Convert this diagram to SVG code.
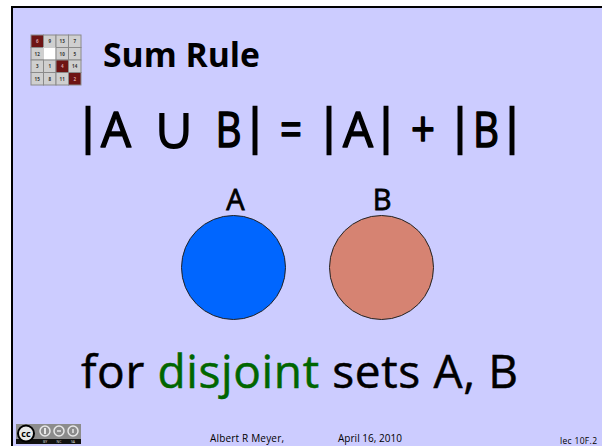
<svg xmlns="http://www.w3.org/2000/svg" width="602" height="446" viewBox="0 0 602 446">
<style>
text{font-family:"Open Sans","Noto Sans","DejaVu Sans",sans-serif;fill:#000}
.big{font-size:50px;stroke:#000;stroke-width:1.6px;stroke-linejoin:round}
.bar{font-family:"Liberation Sans",Arial,sans-serif;font-size:52px;stroke:#000;stroke-width:.6px}
.lab{font-size:29px;stroke:#000;stroke-width:.8px}
.foot{font-size:10px}
.n{font-size:4.5px;text-anchor:middle;fill:#333;font-weight:bold}
.cell{fill:#cfcfcf;stroke:#8a8a8a;stroke-width:1}
.dark{fill:#6e1414;stroke:#8a8a8a;stroke-width:1}
.cc{fill:none;stroke:#e8e8e8;stroke-width:1.5}
</style>
<rect width="602" height="446" fill="#000"/>
<rect x="0" y="0" width="602" height="6" fill="#fff"/>
<rect x="0" y="0" width="11" height="446" fill="#fff"/>
<rect x="13" y="8" width="589" height="438" fill="#ccccff"/>
<g id="puzzle-icon">
<rect class="dark" x="31" y="35" width="12.5" height="12.5"/><rect class="cell" x="43.5" y="35" width="12.5" height="12.5"/><rect class="cell" x="56" y="35" width="12.5" height="12.5"/><rect class="cell" x="68.5" y="35" width="12.5" height="12.5"/>
<rect class="cell" x="31" y="47.5" width="12.5" height="12.5"/><rect x="43.5" y="47.5" width="12.5" height="12.5" fill="#fff" stroke="#cfcfcf"/><rect class="cell" x="56" y="47.5" width="12.5" height="12.5"/><rect class="cell" x="68.5" y="47.5" width="12.5" height="12.5"/>
<rect class="cell" x="31" y="60" width="12.5" height="12.5"/><rect class="cell" x="43.5" y="60" width="12.5" height="12.5"/><rect class="dark" x="56" y="60" width="12.5" height="12.5"/><rect class="cell" x="68.5" y="60" width="12.5" height="12.5"/>
<rect class="cell" x="31" y="72.5" width="12.5" height="12.5"/><rect class="cell" x="43.5" y="72.5" width="12.5" height="12.5"/><rect class="cell" x="56" y="72.5" width="12.5" height="12.5"/><rect class="dark" x="68.5" y="72.5" width="12.5" height="12.5"/>
<text class="n" x="37.2" y="43" style="fill:#d9a0a0">6</text><text class="n" x="49.7" y="43">9</text><text class="n" x="62.2" y="43">13</text><text class="n" x="74.7" y="43">7</text>
<text class="n" x="37.2" y="55.5">12</text><text class="n" x="62.2" y="55.5">10</text><text class="n" x="74.7" y="55.5">5</text>
<text class="n" x="37.2" y="68">3</text><text class="n" x="49.7" y="68">1</text><text class="n" x="62.2" y="68" style="fill:#d9a0a0">4</text><text class="n" x="74.7" y="68">14</text>
<text class="n" x="37.2" y="80.5">15</text><text class="n" x="49.7" y="80.5">8</text><text class="n" x="62.2" y="80.5">11</text><text class="n" x="74.7" y="80.5" style="fill:#d9a0a0">2</text>
</g>
<g id="title"><text x="103" y="67" font-size="34" font-weight="bold" textLength="157" lengthAdjust="spacingAndGlyphs">Sum Rule</text></g>
<g id="formula">
<text class="bar" y="144" x="81.300">|</text>
<text class="big" y="147" x="101" textLength="30" lengthAdjust="spacingAndGlyphs">A</text>
<text class="big" y="147" x="215.500" textLength="26" lengthAdjust="spacingAndGlyphs">B</text>
<text class="bar" y="144" x="248.200">|</text>
<text class="big" y="147" x="280" textLength="22" lengthAdjust="spacingAndGlyphs">=</text>
<text class="bar" y="144" x="322.300">|</text>
<text class="big" y="147" x="343" textLength="30" lengthAdjust="spacingAndGlyphs">A</text>
<text class="bar" y="144" x="379.300">|</text>
<text class="big" y="147" x="411" textLength="24" lengthAdjust="spacingAndGlyphs">+</text>
<text class="bar" y="144" x="453.300">|</text>
<text class="big" y="147" x="473" textLength="26" lengthAdjust="spacingAndGlyphs">B</text>
<text class="bar" y="144" x="505.300">|</text>
<text y="149" x="174" font-size="62" text-anchor="middle" style="font-family:'DejaVu Sans',sans-serif">∪</text>
</g>
<g id="set-a">
<circle cx="233.500" cy="267.500" r="52" fill="#0066ff" stroke="#222" stroke-width="1"/>
<text class="lab" x="235.500" y="210" text-anchor="middle">A</text>
</g>
<g id="set-b">
<circle cx="381.500" cy="267.500" r="52" fill="#d68372" stroke="#222" stroke-width="1"/>
<text class="lab" x="382" y="210" text-anchor="middle">B</text>
</g>
<g id="caption"><text x="81" y="388" font-size="46" textLength="437" stroke="#000" stroke-width=".5">for <tspan stroke="#006600" style="fill:#006600">disjoint</tspan> sets A, B</text></g>
<g id="cc-badge">
<rect x="16" y="424" width="65" height="20" fill="#8c8c8c"/>
<rect x="16" y="439" width="65" height="5" fill="#111"/>
<circle cx="26" cy="433.500" r="8" fill="#e8e8e8" stroke="#000" stroke-width="2"/>
<text x="26" y="436.500" font-size="9" font-weight="bold" text-anchor="middle">cc</text>
<circle class="cc" cx="45" cy="431" r="5"/><circle class="cc" cx="59" cy="431" r="5"/><circle class="cc" cx="73" cy="431" r="5"/>
<rect x="44" y="428" width="2" height="6" fill="#e8e8e8"/>
<path class="cc" d="M57 431h4M73 429v4" stroke-width="1"/>
<text x="45" y="443.300" font-size="3.500" text-anchor="middle" style="fill:#ddd">BY</text>
<text x="59" y="443.300" font-size="3.500" text-anchor="middle" style="fill:#ddd">NC</text>
<text x="73" y="443.300" font-size="3.500" text-anchor="middle" style="fill:#ddd">SA</text>
</g>
<g id="footer">
<text class="foot" x="210" y="442" textLength="74">Albert R Meyer,</text>
<text class="foot" x="338" y="442" textLength="64">April 16, 2010</text>
<text x="560" y="443.500" style="font-size:8.500px" textLength="37">lec 10F.2</text>
</g>
</svg>
